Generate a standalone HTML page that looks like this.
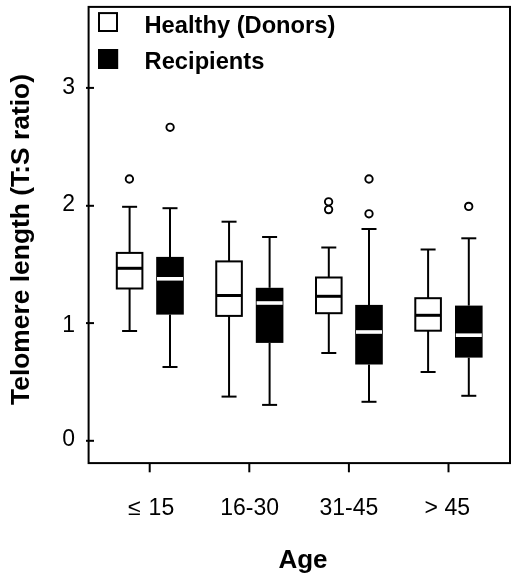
<!DOCTYPE html>
<html><head><meta charset="utf-8"><title>Telomere length by age</title>
<style>
html,body{margin:0;padding:0;background:#fff;}
body{width:520px;height:585px;overflow:hidden;}
svg{display:block;}
.w{stroke:#000;stroke-width:2;fill:none;}
.hb{stroke:#000;stroke-width:2;fill:#fff;}
.hm{stroke:#000;stroke-width:3;}
.rm{stroke:#fff;stroke-width:3.6;}
.o{stroke:#000;stroke-width:1.9;fill:#fff;}
.ax{stroke:#000;stroke-width:2;}
text{font-family:"Liberation Sans",Arial,Helvetica,sans-serif;fill:#000;}
.tl{font-size:23px;}
.bl{font-size:23.7px;font-weight:bold;}
.al{font-size:26px;font-weight:bold;}
</style></head>
<body>
<svg width="520" height="585" viewBox="0 0 520 585">
<rect x="0" y="0" width="520" height="585" fill="#fff"/>
<rect x="88.6" y="6.9" width="421.4" height="456.2" fill="none" stroke="#000" stroke-width="2"/>
<rect x="99" y="13.1" width="18" height="17.9" fill="#fff" stroke="#000" stroke-width="2"/>
<rect x="98" y="49" width="20.2" height="20" fill="#000"/>
<text x="144.5" y="32.7" class="bl">Healthy (Donors)</text>
<text x="144.6" y="68.8" class="bl">Recipients</text>
<line x1="129.60" y1="206.80" x2="129.60" y2="252.90" class="w"/>
<line x1="129.60" y1="288.50" x2="129.60" y2="331.00" class="w"/>
<line x1="122.10" y1="206.80" x2="137.10" y2="206.80" class="w"/>
<line x1="122.10" y1="331.00" x2="137.10" y2="331.00" class="w"/>
<rect x="116.80" y="252.90" width="25.60" height="35.60" class="hb"/>
<line x1="116.80" y1="268.30" x2="142.40" y2="268.30" class="hm"/>
<circle cx="129.40" cy="179.00" r="3.7" class="o"/>
<line x1="229.05" y1="221.70" x2="229.05" y2="261.40" class="w"/>
<line x1="229.05" y1="315.90" x2="229.05" y2="396.60" class="w"/>
<line x1="221.55" y1="221.70" x2="236.55" y2="221.70" class="w"/>
<line x1="221.55" y1="396.60" x2="236.55" y2="396.60" class="w"/>
<rect x="216.25" y="261.40" width="25.60" height="54.50" class="hb"/>
<line x1="216.25" y1="295.50" x2="241.85" y2="295.50" class="hm"/>
<line x1="328.80" y1="247.50" x2="328.80" y2="277.50" class="w"/>
<line x1="328.80" y1="313.20" x2="328.80" y2="353.00" class="w"/>
<line x1="321.30" y1="247.50" x2="336.30" y2="247.50" class="w"/>
<line x1="321.30" y1="353.00" x2="336.30" y2="353.00" class="w"/>
<rect x="316.00" y="277.50" width="25.60" height="35.70" class="hb"/>
<line x1="316.00" y1="296.30" x2="341.60" y2="296.30" class="hm"/>
<circle cx="328.60" cy="201.80" r="3.7" class="o"/>
<circle cx="328.60" cy="209.60" r="3.7" class="o"/>
<line x1="428.10" y1="249.50" x2="428.10" y2="298.20" class="w"/>
<line x1="428.10" y1="330.70" x2="428.10" y2="372.00" class="w"/>
<line x1="420.60" y1="249.50" x2="435.60" y2="249.50" class="w"/>
<line x1="420.60" y1="372.00" x2="435.60" y2="372.00" class="w"/>
<rect x="415.30" y="298.20" width="25.60" height="32.50" class="hb"/>
<line x1="415.30" y1="315.30" x2="440.90" y2="315.30" class="hm"/>
<line x1="170.00" y1="208.20" x2="170.00" y2="256.90" class="w"/>
<line x1="170.00" y1="314.60" x2="170.00" y2="367.00" class="w"/>
<line x1="162.50" y1="208.20" x2="177.50" y2="208.20" class="w"/>
<line x1="162.50" y1="367.00" x2="177.50" y2="367.00" class="w"/>
<rect x="156.20" y="256.90" width="27.60" height="57.70" fill="#000"/>
<line x1="157.00" y1="278.80" x2="183.00" y2="278.80" class="rm"/>
<circle cx="170.10" cy="127.30" r="3.7" class="o"/>
<line x1="269.60" y1="237.00" x2="269.60" y2="287.80" class="w"/>
<line x1="269.60" y1="342.90" x2="269.60" y2="404.90" class="w"/>
<line x1="262.10" y1="237.00" x2="277.10" y2="237.00" class="w"/>
<line x1="262.10" y1="404.90" x2="277.10" y2="404.90" class="w"/>
<rect x="255.80" y="287.80" width="27.60" height="55.10" fill="#000"/>
<line x1="256.60" y1="303.00" x2="282.60" y2="303.00" class="rm"/>
<line x1="369.00" y1="229.00" x2="369.00" y2="304.90" class="w"/>
<line x1="369.00" y1="364.50" x2="369.00" y2="401.80" class="w"/>
<line x1="361.50" y1="229.00" x2="376.50" y2="229.00" class="w"/>
<line x1="361.50" y1="401.80" x2="376.50" y2="401.80" class="w"/>
<rect x="355.20" y="304.90" width="27.60" height="59.60" fill="#000"/>
<line x1="356.00" y1="332.00" x2="382.00" y2="332.00" class="rm"/>
<circle cx="369.00" cy="179.00" r="3.7" class="o"/>
<circle cx="369.00" cy="213.80" r="3.7" class="o"/>
<line x1="468.80" y1="238.30" x2="468.80" y2="305.60" class="w"/>
<line x1="468.80" y1="357.60" x2="468.80" y2="395.80" class="w"/>
<line x1="461.30" y1="238.30" x2="476.30" y2="238.30" class="w"/>
<line x1="461.30" y1="395.80" x2="476.30" y2="395.80" class="w"/>
<rect x="455.00" y="305.60" width="27.60" height="52.00" fill="#000"/>
<line x1="455.80" y1="335.20" x2="481.80" y2="335.20" class="rm"/>
<circle cx="468.70" cy="206.40" r="3.7" class="o"/>
<line x1="86" y1="87.90" x2="94" y2="87.90" class="ax"/>
<text x="75.1" y="94.40" class="tl" text-anchor="end">3</text>
<line x1="86" y1="205.80" x2="94" y2="205.80" class="ax"/>
<text x="75.1" y="211.10" class="tl" text-anchor="end">2</text>
<line x1="86" y1="323.10" x2="94" y2="323.10" class="ax"/>
<text x="75.1" y="331.50" class="tl" text-anchor="end">1</text>
<line x1="86" y1="440.80" x2="94" y2="440.80" class="ax"/>
<text x="75.1" y="446.30" class="tl" text-anchor="end">0</text>
<line x1="149.70" y1="463" x2="149.70" y2="472.3" class="ax"/>
<line x1="249.30" y1="463" x2="249.30" y2="472.3" class="ax"/>
<line x1="348.90" y1="463" x2="348.90" y2="472.3" class="ax"/>
<line x1="448.50" y1="463" x2="448.50" y2="472.3" class="ax"/>
<text y="515" class="tl"><tspan x="127.9">&#8804;</tspan><tspan x="148.6">15</tspan></text>
<text x="249.6" y="515" class="tl" text-anchor="middle">16-30</text>
<text x="348.9" y="515.2" class="tl" text-anchor="middle">31-45</text>
<text y="515" class="tl"><tspan x="424.4">&gt;</tspan><tspan x="444.4">45</tspan></text>
<text x="303" y="567.7" class="al" text-anchor="middle">Age</text>
<text transform="translate(29.1,239.5) rotate(-90)" x="0" y="0" class="al" style="font-size:26.4px" text-anchor="middle">Telomere length (T:S ratio)</text>
</svg>
</body></html>
